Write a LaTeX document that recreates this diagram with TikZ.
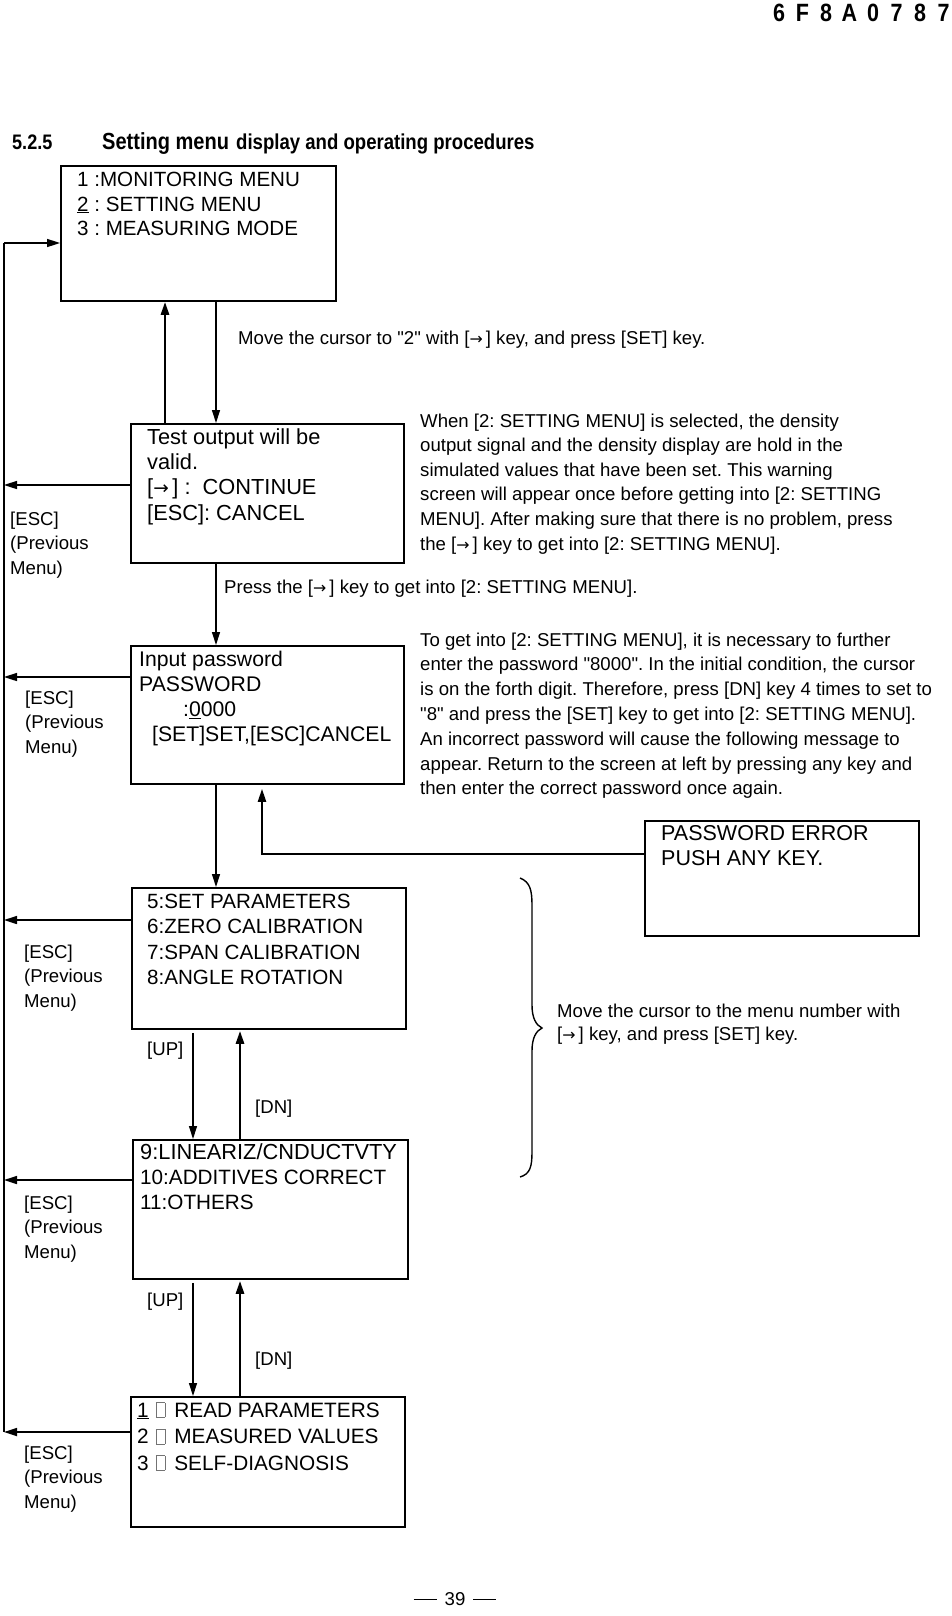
\documentclass[tikz,border=0pt]{standalone}
\usepackage{fontspec}
\setmainfont{Liberation Sans}
\newfontfamily\narrowbold[FakeStretch=0.86]{Liberation Sans Bold}
\newfontfamily\symf[Scale=0.85]{DejaVu Sans}
\usetikzlibrary{arrows.meta}
\frenchspacing
\newcommand\rarr{{\symf →}}
\newcommand\qq{\textquotedbl}
\newcommand\tofu{{\color{black!55}\setlength{\fboxrule}{0.8pt}\setlength{\fboxsep}{0pt}\fbox{\rule{0pt}{14pt}\hspace*{8pt}}}}
\newcommand\ml[1]{\parbox[t]{560pt}{\raggedright #1}}
\begin{document}
\begin{tikzpicture}[x=1pt,y=-1pt,
  box/.style={draw, line width=1.8pt, inner sep=0pt, anchor=north west},
  txt/.style={anchor=base west, inner sep=0pt},
  thinarr/.style={line width=1.2pt, -{Triangle[length=13pt,width=8pt]}},
  thickarr/.style={line width=2.6pt, -{Triangle[length=13pt,width=8pt]}},
  escarr/.style={line width=1.6pt, -{Triangle[length=13pt,width=8pt]}},
  hdr/.style={anchor=base, inner sep=0pt, font=\narrowbold\fontsize{25pt}{25pt}\selectfont},
  note/.style={txt, font=\fontsize{18.6pt}{24.6pt}\selectfont},
]
\useasboundingbox (0,0) rectangle (951,1616);

% header
\foreach \c [count=\i] in {6,F,8,A,0,7,8,7}
  \node[hdr] (h\i) at ({779+23.5*(\i-1)},22) {\c};

% title
\node[txt, font=\narrowbold\fontsize{21pt}{21pt}\selectfont] (t0) at (12,150) {5.2.5};
\node[txt, font=\narrowbold\fontsize{23.3pt}{24pt}\selectfont] (t1) at (102,150) {Setting menu};
\node[txt, font=\narrowbold\fontsize{21.6pt}{24pt}\selectfont] (t2) at (236,150) {display and operating procedures};

% boxes
\node[box, minimum width=275pt, minimum height=135pt] (b1) at (60,165) {};
\node[box, minimum width=273pt, minimum height=139pt] (b2) at (130,423) {};
\node[box, minimum width=273pt, minimum height=138pt] (b3) at (130,645) {};
\node[box, minimum width=274pt, minimum height=115pt] (err) at (644,820) {};
\node[box, minimum width=274pt, minimum height=141pt] (b4) at (131,887) {};
\node[box, minimum width=275pt, minimum height=139pt] (b5) at (132,1139) {};
\node[box, minimum width=274pt, minimum height=130pt] (b6) at (130,1396) {};

% box texts
\node[txt, font=\fontsize{20.6pt}{24.3pt}\selectfont] (b1t) at (77,187)
  {\ml{1 :MONITORING MENU\\\underline{2} : SETTING MENU\\3 : MEASURING MODE}};
\node[txt, font=\fontsize{21.8pt}{25.4pt}\selectfont] (b2t) at (147,444)
  {\ml{Test output will be\\valid.\\{[}\rarr\,] :\ \ CONTINUE\\{[}ESC]: CANCEL}};
\node[txt, font=\fontsize{21.2pt}{25.2pt}\selectfont] (b3t) at (139,666)
  {\ml{Input password\\PASSWORD\\\hspace*{44pt}:\underline{0}000\\\hspace*{13pt}[SET]SET,[ESC]CANCEL}};
\node[txt, font=\fontsize{21.5pt}{25pt}\selectfont] (errt) at (661,840)
  {\ml{PASSWORD ERROR\\PUSH ANY KEY.}};
\node[txt, font=\fontsize{20.6pt}{25.6pt}\selectfont] (b4t) at (147,908)
  {\ml{5:SET PARAMETERS\\6:ZERO CALIBRATION\\7:SPAN CALIBRATION\\8:ANGLE ROTATION}};
\node[txt, font=\fontsize{20.7pt}{25pt}\selectfont] (b5t) at (140,1159)
  {\ml{{\fontsize{21.8pt}{25pt}\selectfont 9:LINEARIZ/CNDUCTVTY}\\10:ADDITIVES CORRECT\\11:OTHERS}};
\node[txt, font=\fontsize{20.8pt}{26.5pt}\selectfont] (b6t) at (137,1417)
  {\ml{\underline{1}\hspace*{7pt}\tofu\hspace*{9pt}READ PARAMETERS\\
  2\hspace*{7pt}\tofu\hspace*{9pt}MEASURED VALUES\\
  3\hspace*{7pt}\tofu\hspace*{9pt}SELF-DIAGNOSIS}};

% notes
\node[note] (n1) at (238,344) {Move the cursor to \qq2\qq{} with [\rarr\,] key, and press [SET] key.};
\node[note] (n2) at (420,427)
  {\ml{When [2: SETTING MENU] is selected, the density\\
  output signal and the density display are hold in the\\
  simulated values that have been set. This warning\\
  screen will appear once before getting into [2: SETTING\\
  MENU]. After making sure that there is no problem, press\\
  the [\rarr\,] key to get into [2: SETTING MENU].}};
\node[note] (n3) at (224,593) {Press the [\rarr\,] key to get into [2: SETTING MENU].};
\node[note, font=\fontsize{18.6pt}{24.8pt}\selectfont] (n4) at (420,646)
  {\ml{To get into [2: SETTING MENU], it is necessary to further\\
  enter the password \qq8000\qq. In the initial condition, the cursor\\
  is on the forth digit. Therefore, press [DN] key 4 times to set to\\
  \qq8\qq{} and press the [SET] key to get into [2: SETTING MENU].\\
  An incorrect password will cause the following message to\\
  appear. Return to the screen at left by pressing any key and\\
  then enter the correct password once again.}};
\node[note, font=\fontsize{18.6pt}{23pt}\selectfont] (n5) at (557,1017)
  {\ml{Move the cursor to the menu number with\\
  {[}\rarr\,] key, and press [SET] key.}};

% ESC labels
\node[note] (l2) at (10,525) {\ml{[ESC]\\(Previous\\Menu)}};
\node[note] (l3) at (25,704) {\ml{[ESC]\\(Previous\\Menu)}};
\node[note] (l4) at (24,958) {\ml{[ESC]\\(Previous\\Menu)}};
\node[note] (l5) at (24,1209) {\ml{[ESC]\\(Previous\\Menu)}};
\node[note] (l6) at (24,1459) {\ml{[ESC]\\(Previous\\Menu)}};

% UP / DN labels
\node[note] (u1) at (147,1055) {[UP]};
\node[note] (d1) at (255,1113) {[DN]};
\node[note] (u2) at (147,1306) {[UP]};
\node[note] (d2) at (255,1365) {[DN]};

% page number
\node[anchor=base, inner sep=0pt, font=\fontsize{18.6pt}{20pt}\selectfont] (pg) at (455,1605)
  {\rule[5.5pt]{23pt}{1pt}\hspace*{8pt}39\hspace*{8pt}\rule[5.5pt]{23pt}{1pt}};

% left return line
\coordinate (lt) at (4,243);
\coordinate (lb) at (4,1432);
\draw[line width=2pt] (lt) -- (lb);
\draw[escarr] (lt) -- (lt -| b1.west);

% ESC arrows
\coordinate (e2) at (4,485);
\coordinate (e3) at (4,677);
\coordinate (e4) at (4,920);
\coordinate (e5) at (4,1180);
\coordinate (e6) at (4,1432);
\foreach \b/\e in {b2/e2,b3/e3,b4/e4,b5/e5,b6/e6}
  \draw[escarr] (\e -| \b.west) -- (\e);

% vertical arrows
\coordinate (xa) at (165,0);
\coordinate (xb) at (216,0);
\coordinate (xu) at (193,0);
\coordinate (xd) at (240,0);
\coordinate (xe) at (262,0);
\draw[thinarr] (b1.south -| xb) -- (b2.north -| xb);
\draw[thickarr] (b2.north -| xa) -- (b1.south -| xa);
\draw[thinarr] (b2.south -| xb) -- (b3.north -| xb);
\draw[thinarr] (b3.south -| xb) -- (b4.north -| xb);
\draw[thinarr, shorten <=3pt] (b4.south -| xu) -- (b5.north -| xu);
\draw[thickarr, shorten >=1pt] (b5.north -| xd) -- (b4.south -| xd);
\draw[thinarr, shorten <=3pt] (b5.south -| xu) -- (b6.north -| xu);
\draw[thickarr, shorten >=1pt] (b6.north -| xd) -- (b5.south -| xd);

% password error return
\coordinate (ey) at (0,854);
\draw[thickarr, line width=2pt, shorten >=4pt] (err.west |- ey) -| (b3.south -| xe);

% brace
\draw[line width=1.4pt] (520,878) .. controls (530,882) and (532,890) .. (532,905)
  -- (532,1005) .. controls (532,1018) and (536,1025) .. (542,1028)
  .. controls (536,1031) and (532,1038) .. (532,1051)
  -- (532,1152) .. controls (532,1167) and (530,1174) .. (520,1177);
\end{tikzpicture}
\end{document}
